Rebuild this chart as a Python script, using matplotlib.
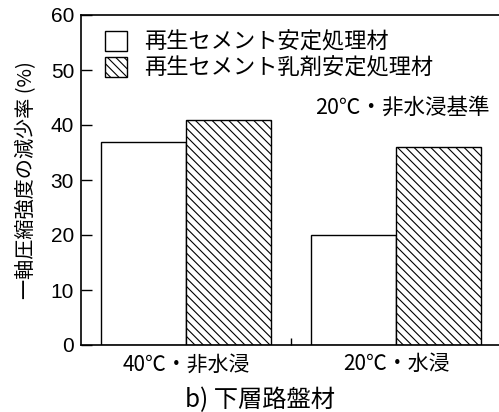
import numpy as np
import matplotlib
matplotlib.use("Agg")
import matplotlib.pyplot as plt

plt.rcParams['font.family'] = ['Noto Sans CJK JP', 'DejaVu Sans']
plt.rcParams['hatch.linewidth'] = 0.8

conditions = ["40℃・非水浸", "20℃・水浸"]
series_names = ["再生セメント安定処理材", "再生セメント乳剤安定処理材"]
cement = [37, 20]
emulsion = [41, 36]
yticks = [0, 10, 20, 30, 40, 50, 60]

fig = plt.figure(figsize=(4.99, 4.12), dpi=100)
ax = fig.add_axes([81 / 499, 67 / 412, 420 / 499, 330 / 412])

x = np.arange(len(conditions))
w = 0.405
ax.bar(x - w / 2, cement, w, color="white", edgecolor="black", linewidth=1.0,
       label=series_names[0])
ax.bar(x + w / 2, emulsion, w, color="white", edgecolor="black", linewidth=1.0,
       hatch="\\\\\\\\", label=series_names[1])

ax.set_xlim(-0.5, 1.5)
ax.set_ylim(0, 60)
ax.set_yticks(yticks)
ax.set_yticklabels([str(v) for v in yticks], family="Liberation Sans", fontsize=15)
ax.set_xticks(x)
ax.set_xticklabels(conditions, fontsize=15)
ax.tick_params(axis="x", length=0, pad=6)
ax.set_xticks([0.5], minor=True)
ax.tick_params(axis="x", which="minor", direction="in", length=5, width=1)
ax.tick_params(axis="y", direction="in", length=8, width=1, pad=5)
ax.spines["right"].set_visible(False)
for s in ["left", "top", "bottom"]:
    ax.spines[s].set_linewidth(1.2)

ax.set_ylabel("一軸圧縮強度の減少率 (%)", fontsize=14.5, labelpad=10)
ax.text(0.765, 0.72, "20℃・非水浸基準", transform=ax.transAxes,
        fontsize=15.5, ha="center", va="center")

ax.legend(loc="upper left", bbox_to_anchor=(0.035, 0.98), frameon=False,
          fontsize=16, handlelength=1.0, handleheight=1.0, handletextpad=0.8,
          labelspacing=0.15, borderaxespad=0)

fig.text(260 / 499, 1 - 400 / 412, "b) 下層路盤材", fontsize=17.5,
         ha="center", va="center")

fig.savefig("out.png", dpi=100)
